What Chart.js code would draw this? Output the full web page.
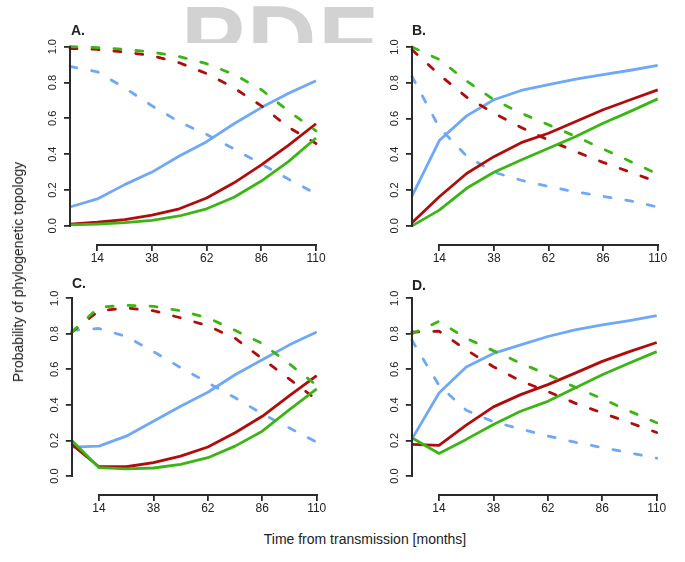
<!DOCTYPE html>
<html>
<head>
<meta charset="utf-8">
<script src="https://cdn.jsdelivr.net/npm/chart.js@4.4.1/dist/chart.umd.min.js"></script>
<style>
  body { margin: 0; background: #fff; }
  #page { position: relative; width: 685px; height: 562px; overflow: hidden; font-family: "Liberation Sans", Arial, sans-serif; color: #222; }
  #page canvas { position: absolute; }
  .wm { position: absolute; left: 181px; top: 0; height: 43px; overflow: hidden; color: #d2d2d2; font: bold 96px "Liberation Sans", Arial, sans-serif; line-height: 96px; }
  .wm span { position: relative; top: -8px; letter-spacing: 2px; }
  .lbl { position: absolute; font-weight: bold; font-size: 14px; z-index: 2; }
  .xtitle { position: absolute; left: 0; width: 730px; top: 531px; text-align: center; font-size: 14px; }
  .ytitle { position: absolute; left: 18px; top: 272px; font-size: 14px; white-space: nowrap; transform: translate(-50%, -50%) rotate(-90deg); }
</style>
</head>
<body>
<div id="page">
  <div class="wm"><span>PDF</span></div>
  <canvas id="pA"></canvas>
  <canvas id="pB"></canvas>
  <canvas id="pC"></canvas>
  <canvas id="pD"></canvas>
  <div class="lbl" style="left:71px;top:22px">A.</div>
  <div class="lbl" style="left:412px;top:22px">B.</div>
  <div class="lbl" style="left:72px;top:275px">C.</div>
  <div class="lbl" style="left:412px;top:277px">D.</div>
  <div class="xtitle">Time from transmission [months]</div>
  <div class="ytitle">Probability of phylogenetic topology</div>
</div>
<script>
// x positions (months since transmission) and axis ticks
const months = [2, 14, 26, 38, 50, 62, 74, 86, 98, 110];
const xTicks = [14, 38, 62, 86, 110];
const yTicks = [0, 0.2, 0.4, 0.6, 0.8, 1.0];

// panel A
const aBlue     = [0.105, 0.15, 0.23, 0.30, 0.39, 0.47, 0.57, 0.66, 0.74, 0.81];
const aBlueDash = [0.89, 0.86, 0.77, 0.67, 0.58, 0.51, 0.43, 0.345, 0.26, 0.18];
const aRed      = [0.01, 0.02, 0.035, 0.06, 0.095, 0.155, 0.24, 0.34, 0.45, 0.57];
const aRedDash  = [0.99, 0.985, 0.97, 0.95, 0.91, 0.85, 0.77, 0.67, 0.55, 0.46];
const aGreen    = [0.005, 0.01, 0.018, 0.03, 0.055, 0.095, 0.16, 0.25, 0.36, 0.49];
const aGreenDash= [1.0, 0.995, 0.985, 0.97, 0.945, 0.905, 0.845, 0.76, 0.64, 0.53];

// panel B
const bBlue     = [0.166, 0.477, 0.615, 0.705, 0.757, 0.789, 0.82, 0.845, 0.87, 0.897];
const bBlueDash = [0.835, 0.55, 0.39, 0.30, 0.255, 0.22, 0.19, 0.165, 0.14, 0.105];
const bRed      = [0.017, 0.163, 0.293, 0.387, 0.465, 0.518, 0.583, 0.649, 0.705, 0.76];
const bRedDash  = [0.985, 0.845, 0.72, 0.63, 0.55, 0.48, 0.415, 0.355, 0.30, 0.245];
const bGreen    = [0.0, 0.088, 0.21, 0.30, 0.368, 0.434, 0.50, 0.574, 0.64, 0.71];
const bGreenDash= [1.0, 0.93, 0.81, 0.705, 0.63, 0.565, 0.50, 0.43, 0.36, 0.29];

// panel C
const cBlue     = [0.163, 0.168, 0.224, 0.308, 0.393, 0.471, 0.57, 0.654, 0.738, 0.81];
const cBlueDash = [0.82, 0.83, 0.785, 0.70, 0.61, 0.525, 0.44, 0.35, 0.27, 0.19];
const cRed      = [0.178, 0.052, 0.052, 0.075, 0.112, 0.163, 0.243, 0.336, 0.452, 0.565];
const cRedDash  = [0.81, 0.93, 0.945, 0.93, 0.89, 0.845, 0.775, 0.66, 0.545, 0.43];
const cGreen    = [0.20, 0.047, 0.04, 0.045, 0.065, 0.103, 0.168, 0.252, 0.374, 0.49];
const cGreenDash= [0.81, 0.95, 0.96, 0.955, 0.93, 0.89, 0.82, 0.745, 0.63, 0.51];

// panel D
const dBlue     = [0.206, 0.467, 0.613, 0.69, 0.738, 0.785, 0.822, 0.85, 0.875, 0.903];
const dBlueDash = [0.765, 0.51, 0.37, 0.305, 0.265, 0.225, 0.19, 0.16, 0.13, 0.10];
const dRed      = [0.178, 0.172, 0.286, 0.389, 0.458, 0.514, 0.579, 0.645, 0.70, 0.751];
const dRedDash  = [0.81, 0.815, 0.71, 0.615, 0.535, 0.475, 0.41, 0.355, 0.30, 0.245];
const dGreen    = [0.215, 0.127, 0.206, 0.29, 0.364, 0.42, 0.495, 0.57, 0.636, 0.70];
const dGreenDash= [0.80, 0.87, 0.775, 0.705, 0.635, 0.57, 0.50, 0.435, 0.365, 0.30];

const BLUE = '#6ea8f6', RED = '#b00c0c', GREEN = '#3bb514';
const AXIS = '#2a2a2a';
const Y_MIN = -0.107;

// R-style detached axes: y line 0..1, x line 14..110 (filled bars, 2px)
const axisLines = {
    id: 'axisLines',
    afterDraw(chart) {
        const ctx = chart.ctx;
        const x = chart.scales.x, y = chart.scales.y;
        const x0 = Math.round(x.getPixelForValue(months[0]));
        const yb = Math.round(y.getPixelForValue(Y_MIN));
        const yTop = Math.round(y.getPixelForValue(1)) - 1;
        const yBot = Math.round(y.getPixelForValue(0)) + 1;
        const xl = Math.round(x.getPixelForValue(xTicks[0])) - 1;
        const xr = Math.round(x.getPixelForValue(xTicks[xTicks.length - 1])) + 1;
        ctx.save();
        ctx.fillStyle = AXIS;
        ctx.fillRect(x0 - 1, yTop, 2, yBot - yTop);
        ctx.fillRect(xl, yb - 1, xr - xl, 2);
        ctx.restore();
    }
};

function line(data, color, dashed) {
    return {
        data: months.map((m, i) => ({ x: m, y: data[i] })),
        borderColor: color,
        borderWidth: 2.8,
        borderDash: dashed ? [7, 15] : [],
        borderCapStyle: dashed ? 'round' : 'butt',
        borderJoinStyle: 'round',
        pointRadius: 0,
        tension: 0,
        fill: false,
        clip: false
    };
}

// box = canvas rect in page px, area = chart area in page px
function makePanel(id, box, area, s) {
    const cv = document.getElementById(id);
    cv.style.left = box.l + 'px';
    cv.style.top = box.t + 'px';
    cv.width = box.w;
    cv.height = box.h;

    new Chart(cv, {
        type: 'line',
        data: {
            // first dataset is drawn on top
            datasets: [
                line(s.greenDash, GREEN, true),
                line(s.green, GREEN, false),
                line(s.redDash, RED, true),
                line(s.red, RED, false),
                line(s.blueDash, BLUE, true),
                line(s.blue, BLUE, false)
            ]
        },
        options: {
            responsive: false,
            animation: false,
            events: [],
            layout: { padding: { left: 0, top: area.t - box.t, right: box.l + box.w - area.r, bottom: 0 } },
            plugins: { legend: { display: false }, tooltip: { enabled: false } },
            scales: {
                x: {
                    type: 'linear', min: months[0], max: months[months.length - 1],
                    afterFit: sc => { sc.height = box.t + box.h - area.b; },
                    afterBuildTicks: sc => { sc.ticks = xTicks.map(v => ({ value: v })); },
                    border: { display: false },
                    grid: { drawOnChartArea: false, drawTicks: true, tickLength: 6, color: AXIS, lineWidth: 1.8 },
                    ticks: { color: '#222', font: { size: 12, family: 'Liberation Sans' }, padding: 0, maxRotation: 0 }
                },
                y: {
                    min: Y_MIN, max: 1.0,
                    afterFit: sc => { sc.width = area.l - box.l; },
                    afterBuildTicks: sc => { sc.ticks = yTicks.map(v => ({ value: v })); },
                    border: { display: false },
                    grid: { drawOnChartArea: false, drawTicks: true, tickLength: 6, color: AXIS, lineWidth: 1.8 },
                    ticks: {
                        color: '#222', font: { size: 11, family: 'Liberation Sans' }, padding: 3,
                        minRotation: 90, maxRotation: 90, crossAlign: 'center',
                        callback: v => v.toFixed(1)
                    }
                }
            }
        },
        plugins: [axisLines]
    });
}

makePanel('pA', { l: 0, t: 0, w: 340, h: 272 }, { l: 70, r: 316, t: 46.7, b: 245 },
    { blue: aBlue, blueDash: aBlueDash, red: aRed, redDash: aRedDash, green: aGreen, greenDash: aGreenDash });
makePanel('pB', { l: 340, t: 0, w: 345, h: 272 }, { l: 412, r: 657.7, t: 47, b: 245 },
    { blue: bBlue, blueDash: bBlueDash, red: bRed, redDash: bRedDash, green: bGreen, greenDash: bGreenDash });
makePanel('pC', { l: 0, t: 272, w: 340, h: 255 }, { l: 71.8, r: 316.7, t: 298.3, b: 495 },
    { blue: cBlue, blueDash: cBlueDash, red: cRed, redDash: cRedDash, green: cGreen, greenDash: cGreenDash });
makePanel('pD', { l: 340, t: 272, w: 345, h: 255 }, { l: 411.8, r: 656.7, t: 298.3, b: 495 },
    { blue: dBlue, blueDash: dBlueDash, red: dRed, redDash: dRedDash, green: dGreen, greenDash: dGreenDash });
</script>
</body>
</html>
